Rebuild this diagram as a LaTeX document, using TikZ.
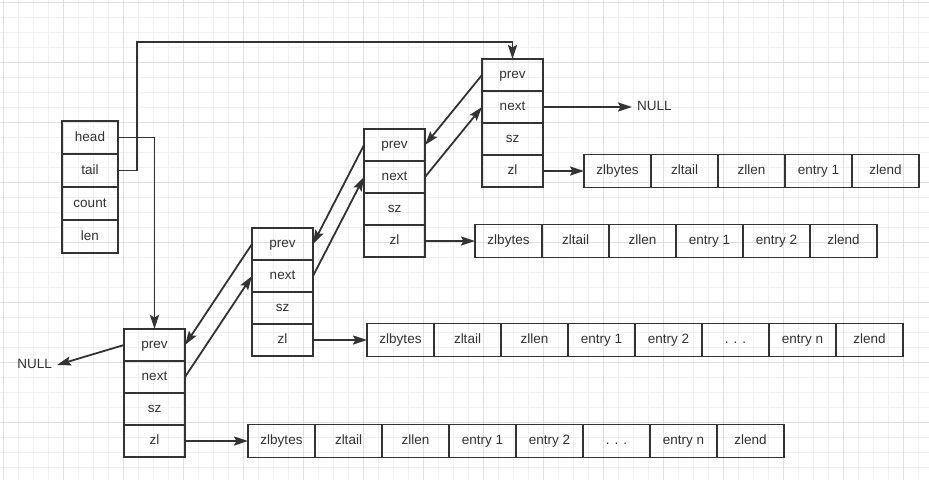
\documentclass[tikz,border=0pt]{standalone}
\usepackage{fontspec}
\setmainfont{Liberation Sans}
\usetikzlibrary{arrows.meta,positioning,calc}
\definecolor{ink}{HTML}{333333}
\definecolor{gridlo}{HTML}{F0F0F0}
\definecolor{gridhi}{HTML}{E0E0E0}
\tikzstyle{lst}=[rectangle,line width=1.8pt,draw=ink,text=ink,minimum width=56pt,minimum height=33pt,outer sep=0pt,inner sep=0pt,text height=10pt,text depth=3pt]
\tikzstyle{qn}=[rectangle,line width=1.8pt,draw=ink,text=ink,minimum width=61pt,minimum height=32pt,outer sep=0pt,inner sep=0pt,text height=10pt,text depth=3pt]
\tikzstyle{zc}=[rectangle,line width=1.8pt,draw=ink,text=ink,minimum width=67pt,minimum height=33pt,outer sep=0pt,inner sep=0pt,text height=10pt,text depth=3pt]
\tikzstyle{ptr}=[line width=1.8pt,draw=ink,-{Stealth[length=14pt,width=9pt,inset=2.5pt]}]
\tikzset{
	nul/.style={text=ink,inner xsep=5pt,inner ysep=0pt,text height=10pt,text depth=3pt},
	gminor/.style={draw=gridlo,line width=1pt},
	gmajor/.style={draw=gridhi,line width=1pt}
}

\begin{document}
\begin{tikzpicture}[x=1pt,y=-1pt,every node/.style={font={\fontsize{13.5}{16}\selectfont}}]
    \useasboundingbox (0,0) rectangle (929,480);
    \fill[white] (0,0) rectangle (929,480);
    \foreach \x in {3,18,...,928} \draw[gminor] (\x,0) -- (\x,480);
    \foreach \y in {2,17,...,479} \draw[gminor] (0,\y) -- (929,\y);
    \foreach \x in {3,63,...,928} \draw[gmajor] (\x,0) -- (\x,480);
    \foreach \y in {2,62,...,479} \draw[gmajor] (0,\y) -- (929,\y);

    \node (head) [lst,anchor=north west] at (62,121) {head};
    \node (tail) [lst,below=0pt of head] {tail};
    \node (count) [lst,below=0pt of tail] {count};
    \node (len) [lst,below=0pt of count] {len};

    \foreach \n/\x/\y in {1/124/329,2/252/228,3/364/129,4/482/59}{
      \node (n\n-prev) [qn,anchor=north west] at (\x,\y) {prev};
      \node (n\n-next) [qn,below=0pt of n\n-prev] {next};
      \node (n\n-sz) [qn,below=0pt of n\n-next] {sz};
      \node (n\n-zl) [qn,below=0pt of n\n-sz] {zl};
    }

    \foreach \t [count=\i] in {zlbytes,zltail,zllen,entry 1,zlend}
      \node (z4-\i) [zc,anchor=west,xshift={(\i-1)*67pt}] at ([xshift=41pt]n4-zl.east) {\t};
    \foreach \t [count=\i] in {zlbytes,zltail,zllen,entry 1,entry 2,zlend}
      \node (z3-\i) [zc,anchor=west,xshift={(\i-1)*67pt}] at ([xshift=50pt]n3-zl.east) {\t};
    \foreach \t [count=\i] in {zlbytes,zltail,zllen,entry 1,entry 2,{. . .},entry n,zlend}
      \node (z2-\i) [zc,anchor=west,xshift={(\i-1)*67pt}] at ([xshift=54pt]n2-zl.east) {\t};
    \foreach \t [count=\i] in {zlbytes,zltail,zllen,entry 1,entry 2,{. . .},entry n,zlend}
      \node (z1-\i) [zc,anchor=west,xshift={(\i-1)*67pt}] at ([xshift=63pt]n1-zl.east) {\t};

    \node (nulll) [nul,anchor=east] at (57,365) {NULL};
    \node (nullr) [nul,anchor=west] at (632,107) {NULL};

    \draw[ptr] (head.east) -| (n1-prev.north);
    \draw[ptr] (tail.east) -- ++(19,0) |- ([yshift=17pt]n4-prev.north) -- (n4-prev.north);
    \foreach \a/\b in {1/2,2/3,3/4}{
      \draw[ptr] (n\b-prev.west) -- (n\a-prev.east);
      \draw[ptr] (n\a-next.east) -- (n\b-next.west);
    }
    \foreach \n in {1,...,4} \draw[ptr] (n\n-zl.east) -- (z\n-1.west);
    \draw[ptr] (n1-prev.west) -- (nulll.east);
    \draw[ptr] (n4-next.east) -- (nullr.west);
\end{tikzpicture}
\end{document}
